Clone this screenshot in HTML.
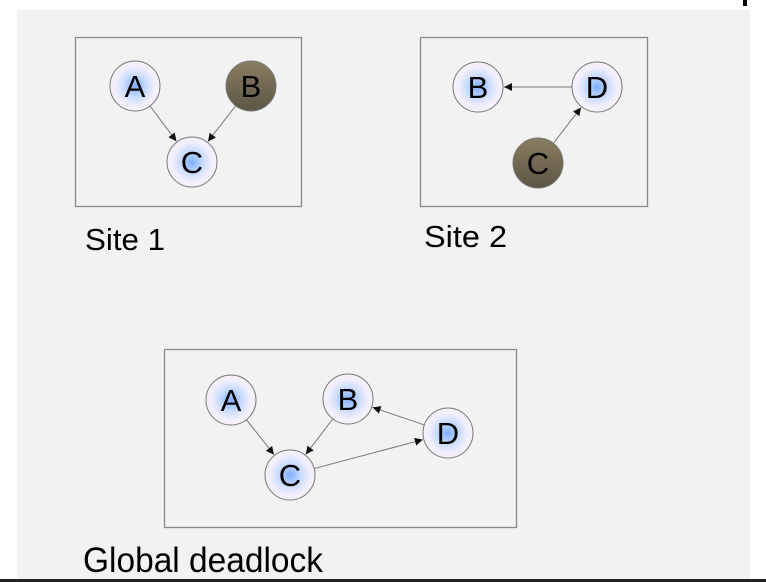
<!DOCTYPE html>
<html><head><meta charset="utf-8"><style>
html,body{margin:0;padding:0;background:#fff;}
svg{display:block;}
text{font-family:"Liberation Sans",sans-serif;}
</style></head><body>
<svg id="s" width="766" height="582" viewBox="0 0 766 582">
<defs>
<radialGradient id="lg" cx="50%" cy="50%" r="50%">
<stop offset="0" stop-color="#7fb0ff"/><stop offset="0.45" stop-color="#c8dcff"/><stop offset="0.8" stop-color="#f3eefb"/><stop offset="1" stop-color="#f6f0fa"/>
</radialGradient>
<linearGradient id="dg" x1="0" y1="0" x2="0" y2="1">
<stop offset="0" stop-color="#8a7e62"/><stop offset="1" stop-color="#5c5544"/>
</linearGradient>
<marker id="ah" viewBox="0 0 10 10" refX="10" refY="5" markerWidth="8" markerHeight="8" markerUnits="userSpaceOnUse" orient="auto">
<path d="M0,0 L10,5 L0,10 z" fill="#111"/>
</marker>
</defs>
<rect x="17" y="10" width="733" height="569" fill="#f2f2f2"/>
<rect x="0" y="579" width="766" height="3" fill="#222"/>
<rect x="743" y="0" width="4" height="6" fill="#000"/>
<g id="boxes"></g><g id="edges"></g><g id="nodes"></g><g id="labels"></g>
</svg>
<script>
const boxes=[["site-1-box",75,37,226,169],["site-2-box",420,37,227,169],["global-box",164,349,352,178]];
const labels=[["site-1-label","Site 1",85,250,31,80],["site-2-label","Site 2",424,247,31,83],["global-deadlock-label","Global deadlock",83,572,35,240]];
const nodeIds=["s1A","s1B","s1C","s2B","s2D","s2C","gA","gB","gD","gC"];
const nodeLabels=["A","B","C","B","D","C","A","B","D","C"];
const nodeX=[135,251,192,478,597,538,231,348,448,290];
const nodeY=[86,86,162,87,87,163,400,399,433,475];
const nodeDark=[0,1,0,0,0,1,0,0,0,0];
const edgeFrom=["s1A","s1B","s2D","s2C","gA","gB","gD","gC"];
const edgeTo=["s1C","s1C","s2B","s2D","gC","gC","gB","gD"];
const R=25;
const NS="http://www.w3.org/2000/svg";
function mk(t,a,p){const e=document.createElementNS(NS,t);for(const k in a)e.setAttribute(k,a[k]);document.getElementById(p).appendChild(e);return e;}
boxes.forEach(b=>{const e=mk('rect',{x:b[1]+.5,y:b[2]+.5,width:b[3],height:b[4],fill:'none',stroke:'#8a8a8a','stroke-width':1.3},'boxes');

});
function idx(id){return nodeIds.indexOf(id);}
edgeFrom.forEach((f,i)=>{const a=idx(f),b=idx(edgeTo[i]);
const dx=nodeX[b]-nodeX[a],dy=nodeY[b]-nodeY[a],L=Math.hypot(dx,dy),ux=dx/L,uy=dy/L;
const e=mk('line',{x1:nodeX[a]+ux*R,y1:nodeY[a]+uy*R,x2:nodeX[b]-ux*(R+1),y2:nodeY[b]-uy*(R+1),stroke:'#777','stroke-width':1,'marker-end':'url(#ah)'},'edges');

});
nodeIds.forEach((id,i)=>{const c=mk('circle',{cx:nodeX[i],cy:nodeY[i],r:R,fill:nodeDark[i]?'url(#dg)':'url(#lg)',stroke:'#777','stroke-width':1},'nodes');


const t=mk('text',{x:nodeX[i],y:nodeY[i]+11,'text-anchor':'middle','font-size':31,'font-weight':500,fill:'#000'},'nodes');
t.textContent=nodeLabels[i];

});
labels.forEach(l=>{const t=mk('text',{x:l[2],y:l[3],'font-size':l[4],textLength:l[5],lengthAdjust:'spacingAndGlyphs',fill:'#000'},'labels');t.textContent=l[1];

});
</script>
</body></html>
